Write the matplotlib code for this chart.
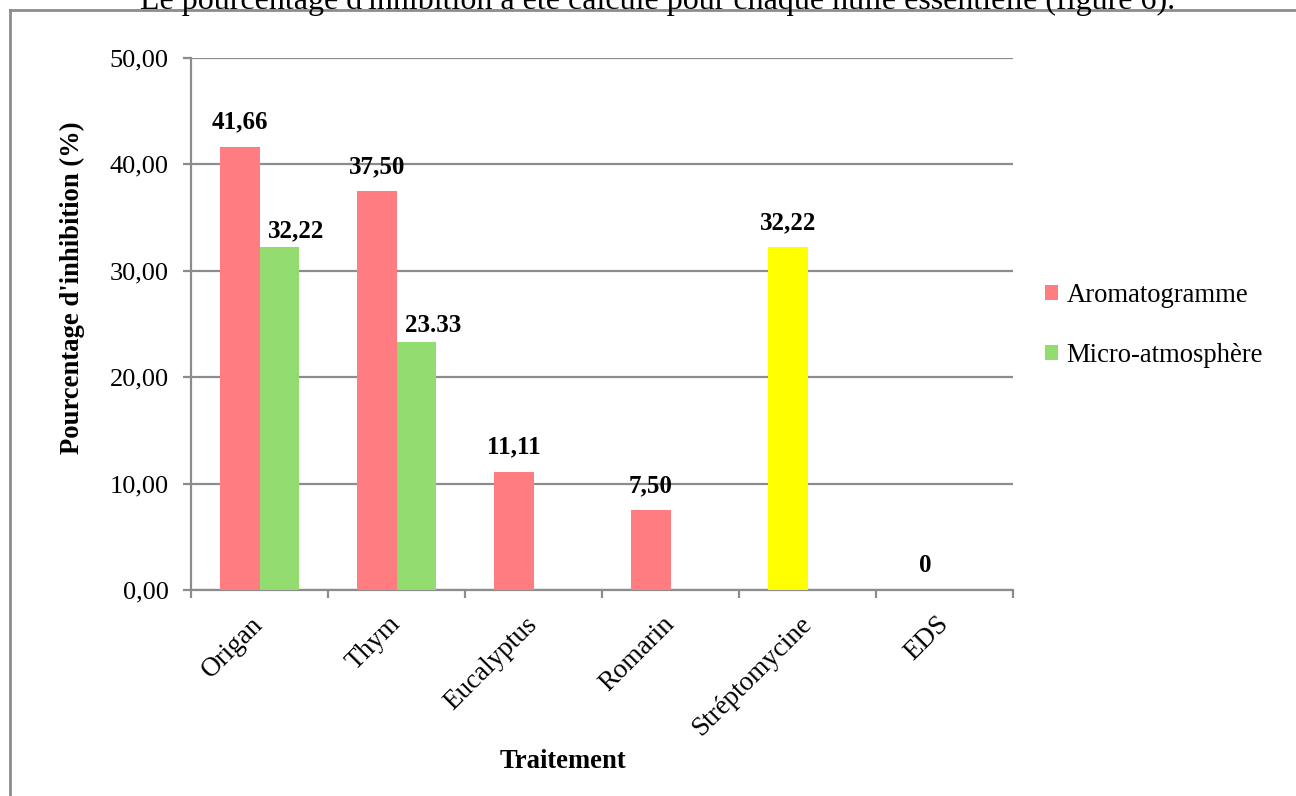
import numpy as np
import matplotlib
matplotlib.use("Agg")
import matplotlib.pyplot as plt
from matplotlib.patches import Patch
from matplotlib.lines import Line2D

# Inhibition percentages per treatment
categories = ["Origan", "Thym", "Eucalyptus", "Romarin", "Stréptomycine", "EDS"]
aromatogramme = [41.66, 37.50, 11.11, 7.50, 32.22, 0.0]
micro_atmosphere = [32.22, 23.33, np.nan, np.nan, np.nan, np.nan]
aroma_labels = ["41,66", "37,50", "11,11", "7,50", "32,22", "0"]
micro_labels = ["32,22", "23.33", "", "", "", ""]
series_names = ["Aromatogramme", "Micro-atmosphère"]
y_ticks = [0, 10, 20, 30, 40, 50]
y_tick_labels = ["0,00", "10,00", "20,00", "30,00", "40,00", "50,00"]

RED = "#FF7C80"
GREEN = "#92DC70"
YELLOW = "#FFFF00"
GREY = "#8C8C8C"
aroma_colors = [RED, RED, RED, RED, YELLOW, RED]

plt.rcParams["font.family"] = ["Liberation Serif", "DejaVu Serif"]

W, H = 1296, 796
fig = plt.figure(figsize=(W / 100, H / 100), dpi=100)
fig.patch.set_facecolor("white")

ax = fig.add_axes([191 / W, 1 - 590 / H, (1013 - 191) / W, (590 - 58) / H])

x = np.arange(len(categories))
bw = 0.285
ax.bar(x - bw / 2, aromatogramme, width=bw, color=aroma_colors, zorder=3)
ax.bar(x + bw / 2, micro_atmosphere, width=bw, color=GREEN, zorder=3)

# value labels
for xi, v, lab in zip(x, aromatogramme, aroma_labels):
    if lab:
        ax.annotate(lab, (xi - bw / 2, v), xytext=(0, 13), textcoords="offset points",
                    ha="center", va="baseline", fontsize=18, fontweight="bold", zorder=4)
for xi, v, lab in zip(x, micro_atmosphere, micro_labels):
    if lab:
        ax.annotate(lab, (xi + bw / 2, v), xytext=(12, 7), textcoords="offset points",
                    ha="center", va="baseline", fontsize=18, fontweight="bold", zorder=4)

ax.set_xlim(-0.5, len(categories) - 0.5)
ax.set_ylim(0, 50)
ax.set_yticks(y_ticks)
ax.set_yticklabels(y_tick_labels, fontsize=19)
ax.yaxis.grid(True, color=GREY, linewidth=1.6, zorder=0)
ax.set_axisbelow(True)

ax.set_xticks(x)
ax.set_xticklabels(categories, fontsize=19.5, rotation=45, ha="right", va="center",
                   rotation_mode="anchor")
ax.set_xticks(np.arange(-0.5, len(categories)), minor=True)
ax.tick_params(axis="x", which="major", length=0, pad=22)
ax.tick_params(axis="x", which="minor", length=6, width=1.6, color=GREY, direction="out")
ax.tick_params(axis="y", length=6, width=1.6, color=GREY, direction="out", pad=10)

for s in ["top", "right"]:
    ax.spines[s].set_visible(False)
for s in ["left", "bottom"]:
    ax.spines[s].set_color(GREY)
    ax.spines[s].set_linewidth(1.6)

fig.text(72 / W, 1 - 288 / H, "Pourcentage d'inhibition (%)", rotation=90,
         ha="center", va="center", fontsize=19.2, fontweight="bold")
fig.text(563 / W, 1 - 762 / H, "Traitement", ha="center", va="center",
         fontsize=19.2, fontweight="bold")

handles = [Patch(facecolor=RED, edgecolor="none"), Patch(facecolor=GREEN, edgecolor="none")]
fig.legend(handles, series_names, loc="upper left",
           bbox_to_anchor=(1045 / W, 1 - 283 / H), frameon=False, fontsize=19.2,
           handlelength=0.5, handleheight=0.5, handletextpad=0.3, labelspacing=1.3,
           borderpad=0, borderaxespad=0)

# surrounding frame and the caption line above it
fig.add_artist(Line2D([10 / W, 1.0], [1 - 10 / H, 1 - 10 / H], color=GREY, linewidth=2,
                      transform=fig.transFigure))
fig.add_artist(Line2D([10 / W, 10 / W], [1 - 10 / H, 0], color=GREY, linewidth=2,
                      transform=fig.transFigure))
fig.text(140 / W, 1 - 9 / H,
         "Le pourcentage d'inhibition a été calculé pour chaque huile essentielle (figure 6).",
         ha="left", va="baseline", fontsize=23)

fig.savefig("out.png", dpi=100, facecolor="white")
